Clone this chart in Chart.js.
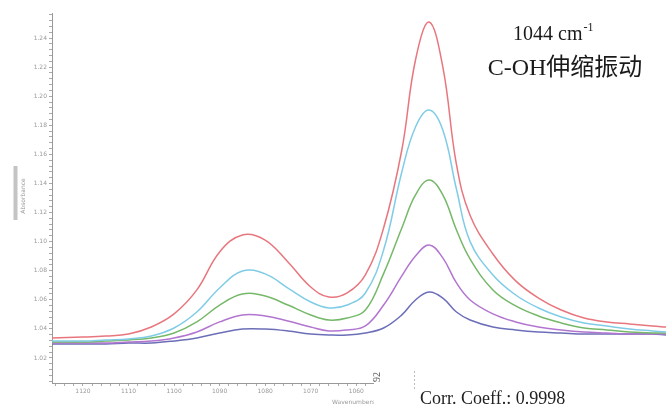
<!DOCTYPE html>
<html>
<head>
<meta charset="utf-8">
<script src="https://cdn.jsdelivr.net/npm/chart.js@4"></script>
<style>
  html, body { margin: 0; padding: 0; background: #fff; }
  canvas { display: block; }
</style>
</head>
<body>
<canvas id="c" width="668" height="412"></canvas>
<script>
// Wavenumbers (cm-1), x axis reversed
const wavenumbers = [1127, 1120, 1115, 1110, 1105, 1100, 1095, 1090, 1085, 1080, 1075, 1070, 1066, 1062, 1058, 1054, 1050, 1047, 1044, 1041, 1038, 1035, 1030, 1025, 1020, 1015, 1010, 1005, 1000, 995, 992];

const seriesRed    = [1.0338, 1.0344, 1.0351, 1.0365, 1.0413, 1.0503, 1.0668, 1.0929, 1.1046, 1.1011, 1.0860, 1.0688, 1.0619, 1.0647, 1.0771, 1.1094, 1.1630, 1.2249, 1.2510, 1.2201, 1.1530, 1.1180, 1.0915, 1.0730, 1.0612, 1.0530, 1.0475, 1.0448, 1.0434, 1.0420, 1.0413];
const seriesBlue   = [1.0317, 1.0317, 1.0324, 1.0331, 1.0351, 1.0406, 1.0516, 1.0681, 1.0798, 1.0778, 1.0681, 1.0585, 1.0544, 1.0564, 1.0647, 1.0942, 1.1479, 1.1788, 1.1905, 1.1767, 1.1360, 1.1000, 1.0771, 1.0633, 1.0544, 1.0482, 1.0441, 1.0420, 1.0399, 1.0386, 1.0379];
const seriesGreen  = [1.0310, 1.0310, 1.0317, 1.0324, 1.0338, 1.0372, 1.0448, 1.0564, 1.0640, 1.0626, 1.0564, 1.0496, 1.0461, 1.0475, 1.0530, 1.0780, 1.1094, 1.1321, 1.1424, 1.1321, 1.1080, 1.0880, 1.0668, 1.0558, 1.0489, 1.0441, 1.0406, 1.0393, 1.0379, 1.0372, 1.0372];
const seriesPurple = [1.0303, 1.0303, 1.0303, 1.0310, 1.0317, 1.0338, 1.0379, 1.0448, 1.0496, 1.0489, 1.0454, 1.0413, 1.0386, 1.0393, 1.0420, 1.0564, 1.0764, 1.0901, 1.0977, 1.0888, 1.0716, 1.0599, 1.0503, 1.0448, 1.0413, 1.0393, 1.0379, 1.0372, 1.0365, 1.0365, 1.0365];
const seriesDark   = [1.0296, 1.0296, 1.0296, 1.0303, 1.0303, 1.0317, 1.0338, 1.0372, 1.0399, 1.0399, 1.0386, 1.0365, 1.0358, 1.0358, 1.0372, 1.0406, 1.0496, 1.0599, 1.0654, 1.0612, 1.0516, 1.0461, 1.0413, 1.0393, 1.0379, 1.0372, 1.0365, 1.0365, 1.0365, 1.0365, 1.0358];

const yTickLabels = [1.02, 1.04, 1.06, 1.08, 1.10, 1.12, 1.14, 1.16, 1.18, 1.20, 1.22, 1.24];
const xTickLabels = [1120, 1110, 1100, 1090, 1080, 1070, 1060];

const seriesList = [
  { name: 'S1', values: seriesRed,    color: 'rgb(232,118,126)' },
  { name: 'S2', values: seriesBlue,   color: 'rgb(128,204,230)' },
  { name: 'S3', values: seriesGreen,  color: 'rgb(118,184,106)' },
  { name: 'S4', values: seriesPurple, color: 'rgb(178,118,208)' },
  { name: 'S5', values: seriesDark,   color: 'rgb(108,110,184)' }
];

const datasets = seriesList.map(s => ({
  label: s.name,
  data: wavenumbers.map((w, i) => ({ x: w, y: s.values[i] })),
  borderColor: s.color,
  borderWidth: 1.5,
  pointRadius: 0,
  fill: false,
  tension: 0.4
}));

const overlay = {
  id: 'overlay',
  afterDraw(chart) {
    const ctx = chart.ctx;
    ctx.save();
    // y-axis title
    ctx.fillStyle = '#c4c4c4';
    ctx.fillRect(13.5, 166, 4, 54);
    ctx.save();
    ctx.translate(23, 196);
    ctx.rotate(-Math.PI / 2);
    ctx.fillStyle = '#999';
    ctx.font = '6px "DejaVu Sans"';
    ctx.textAlign = 'center';
    ctx.textBaseline = 'middle';
    ctx.fillText('Absorbance', 0, 0);
    ctx.restore();
    // x-axis title (cut off by the pasted box)
    ctx.fillStyle = '#999';
    ctx.font = '6px "DejaVu Sans"';
    ctx.textAlign = 'left';
    ctx.textBaseline = 'middle';
    ctx.fillText('Wavenumbers (cm-1)', 332, 402);
    // pasted white box
    ctx.fillStyle = '#fff';
    ctx.fillRect(374, 366, 294, 46);
    // "92" rotated
    ctx.save();
    ctx.translate(377, 377);
    ctx.rotate(-Math.PI / 2);
    ctx.fillStyle = '#555';
    ctx.font = '10px "Liberation Serif"';
    ctx.textAlign = 'center';
    ctx.textBaseline = 'middle';
    ctx.fillText('92', 0, 0);
    ctx.restore();
    ctx.strokeStyle = '#bbb';
    ctx.lineWidth = 1;
    ctx.setLineDash([2, 2]);
    ctx.beginPath();
    ctx.moveTo(414.5, 371);
    ctx.lineTo(414.5, 390);
    ctx.stroke();
    ctx.setLineDash([]);
    ctx.fillStyle = '#222';
    ctx.font = '18px "Liberation Serif"';
    ctx.textAlign = 'left';
    ctx.textBaseline = 'alphabetic';
    ctx.fillText('Corr. Coeff.: 0.9998', 420, 404);
    // annotation
    ctx.font = '20px "Liberation Serif"';
    ctx.fillStyle = '#1a1a1a';
    ctx.fillText('1044 cm', 513, 40);
    const w1 = ctx.measureText('1044 cm').width;
    ctx.font = '12px "Liberation Serif"';
    ctx.fillText('-1', 513 + w1 + 1, 31);
    ctx.font = '24px "Liberation Serif", "Noto Sans CJK SC"';
    ctx.textAlign = 'center';
    ctx.fillText('C-OH伸缩振动', 565, 75);
    ctx.restore();
  }
};

new Chart(document.getElementById('c'), {
  type: 'line',
  data: { datasets },
  options: {
    responsive: false,
    animation: false,
    layout: { padding: { top: 13, left: 0, right: 0, bottom: 0 } },
    plugins: { legend: { display: false }, tooltip: { enabled: false } },
    scales: {
      x: {
        type: 'linear',
        reverse: true,
        min: 992,
        max: 1126.8,
        afterFit(scale) { scale.height = 29; },
        afterBuildTicks(scale) {
          const t = [];
          for (let v = 1126; v >= 992; v -= 2) t.push({ value: v });
          scale.ticks = t;
        },
        ticks: {
          autoSkip: false,
          maxRotation: 0,
          padding: 2,
          color: '#999',
          font: { family: 'DejaVu Sans', size: 6 },
          callback: (v) => xTickLabels.includes(Math.round(v)) ? String(Math.round(v)) : ''
        },
        grid: { drawOnChartArea: false, tickLength: 3, color: '#aaa' },
        border: { color: '#999' }
      },
      y: {
        type: 'linear',
        min: 1.0028,
        max: 1.2572,
        afterFit(scale) { scale.width = 52; },
        afterBuildTicks(scale) {
          const t = [];
          for (let k = 0; k <= 63; k++) t.push({ value: 1.004 + k * 0.004 });
          scale.ticks = t;
        },
        ticks: {
          autoSkip: false,
          padding: 2,
          color: '#999',
          font: { family: 'DejaVu Sans', size: 6 },
          callback: (v) => {
            const hit = yTickLabels.find(l => Math.abs(l - v) < 1e-6);
            return hit !== undefined ? hit.toFixed(2) : '';
          }
        },
        grid: { drawOnChartArea: false, tickLength: 3, color: '#aaa' },
        border: { color: '#999' }
      }
    }
  },
  plugins: [overlay]
});
</script>
</body>
</html>
